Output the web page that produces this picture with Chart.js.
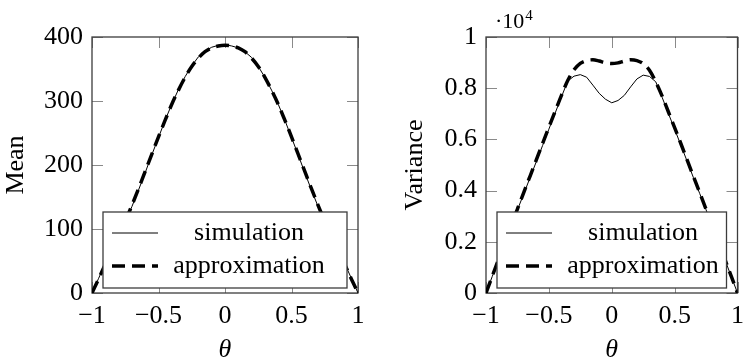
<!DOCTYPE html>
<html>
<head>
<meta charset="utf-8">
<script src="https://cdn.jsdelivr.net/npm/chart.js@4.4.1/dist/chart.umd.min.js"></script>
<style>
  html, body { margin: 0; padding: 0; background: #fff; overflow: hidden; }
  #meanChart { position: absolute; left: 0; top: 0; }
  #varChart { position: absolute; left: 375px; top: 0; }
</style>
</head>
<body>
<canvas id="meanChart" width="375" height="364"></canvas>
<canvas id="varChart" width="377" height="364"></canvas>
<script>
const FONT = "'Liberation Serif', 'DejaVu Serif', serif";

// theta grid shared by all series
const theta = [-1, -0.95, -0.9, -0.85, -0.8, -0.75, -0.7, -0.65, -0.6, -0.55, -0.5,
  -0.45, -0.4, -0.35, -0.3, -0.25, -0.2, -0.15, -0.1, -0.05, 0,
  0.05, 0.1, 0.15, 0.2, 0.25, 0.3, 0.35, 0.4, 0.45, 0.5,
  0.55, 0.6, 0.65, 0.7, 0.75, 0.8, 0.85, 0.9, 0.95, 1];

const meanSim = [0, 23, 46, 67, 89, 111, 135, 161, 188, 216, 243,
  270, 295, 318, 338, 355, 369, 378, 384, 387, 388,
  386, 383, 377, 368, 354, 337, 317, 295, 270, 243,
  216, 188, 161, 135, 111, 89, 67, 46, 23, 0];
const meanApprox = [0, 22, 45, 67, 89, 112, 137, 163, 190, 217, 244,
  270, 295, 317, 337, 354, 367, 377, 383, 386, 387,
  386, 383, 377, 367, 354, 337, 317, 295, 270, 244,
  217, 190, 163, 137, 112, 89, 67, 45, 22, 0];

const varSim = [0, 650, 1300, 1950, 2600, 3250, 3870, 4500, 5130, 5760, 6400,
  7030, 7660, 8280, 8470, 8530, 8430, 8120, 7800, 7570, 7430,
  7520, 7720, 8050, 8360, 8510, 8460, 8250, 7650, 7020, 6400,
  5770, 5140, 4500, 3880, 3250, 2600, 1950, 1300, 650, 0];
const varApprox = [0, 660, 1320, 1980, 2640, 3280, 3920, 4560, 5200, 5840, 6470,
  7100, 7720, 8300, 8720, 8970, 9080, 9110, 9060, 8990, 8960,
  8990, 9060, 9110, 9080, 8960, 8700, 8250, 7700, 7080, 6460,
  5830, 5190, 4550, 3910, 3270, 2630, 1970, 1310, 660, 0];

const legendLabels = ['simulation', 'approximation'];

function pts(ys) {
  return ys.map((v, i) => ({ x: theta[i], y: v }));
}

function minus(v) {
  return String(v).replace('-', '\u2212');
}

// box + inward ticks on all four sides
const framePlugin = {
  id: 'frame',
  beforeDatasetsDraw(chart) {
    const { ctx, chartArea: a, scales } = chart;
    const tl = 11;
    ctx.save();
    ctx.strokeStyle = '#8a8a8a';
    ctx.lineWidth = 1;
    ctx.beginPath();
    scales.x.ticks.forEach(t => {
      const px = Math.round(scales.x.getPixelForValue(t.value)) + 0.5;
      ctx.moveTo(px, a.bottom); ctx.lineTo(px, a.bottom - tl);
      ctx.moveTo(px, a.top); ctx.lineTo(px, a.top + tl);
    });
    scales.y.ticks.forEach(t => {
      const py = Math.round(scales.y.getPixelForValue(t.value)) + 0.5;
      ctx.moveTo(a.left, py); ctx.lineTo(a.left + tl, py);
      ctx.moveTo(a.right, py); ctx.lineTo(a.right - tl, py);
    });
    ctx.stroke();
    ctx.strokeStyle = '#3c3c3c';
    ctx.lineWidth = 1.3;
    ctx.strokeRect(a.left, a.top, a.right - a.left, a.bottom - a.top);
    ctx.restore();
  }
};

const boxLegend = {
  id: 'boxLegend',
  afterDatasetsDraw(chart) {
    const { ctx, chartArea: a } = chart;
    const w = a.right - a.left - 22, h = 76;
    const left = a.left + 11, top = a.bottom - 5 - h;
    ctx.save();
    ctx.fillStyle = '#fff';
    ctx.fillRect(left, top, w, h);
    ctx.strokeStyle = '#3c3c3c';
    ctx.lineWidth = 1.3;
    ctx.strokeRect(left, top, w, h);
    chart.data.datasets.forEach((ds, i) => {
      const cy = top + 21 + i * 33;
      ctx.beginPath();
      ctx.strokeStyle = ds.borderColor;
      ctx.lineWidth = ds.borderWidth;
      ctx.setLineDash(ds.borderDash || []);
      ctx.moveTo(left + 9, cy);
      ctx.lineTo(left + 55, cy);
      ctx.stroke();
      ctx.setLineDash([]);
      ctx.fillStyle = '#000';
      ctx.font = '26px ' + FONT;
      ctx.textAlign = 'center';
      ctx.textBaseline = 'middle';
      ctx.fillText(ds.label, left + 146, cy);
    });
    ctx.restore();
  }
};

const expLabel = {
  id: 'expLabel',
  afterDraw(chart) {
    const { ctx, chartArea: a } = chart;
    ctx.save();
    ctx.fillStyle = '#000';
    ctx.textBaseline = 'alphabetic';
    ctx.textAlign = 'left';
    ctx.font = '22px ' + FONT;
    const base = '\u00b710';
    ctx.fillText(base, a.left + 9, 28);
    const bw = ctx.measureText(base).width;
    ctx.font = '15px ' + FONT;
    ctx.fillText('4', a.left + 9 + bw + 1, 20);
    ctx.restore();
  }
};

function makeChart(id, sim, approx, yOpts, layoutPad, plugins) {
  return new Chart(document.getElementById(id), {
    type: 'line',
    data: {
      datasets: [
        { label: legendLabels[0], data: pts(sim), borderColor: '#000', borderWidth: 1,
          pointRadius: 0, tension: 0, order: 1 },
        { label: legendLabels[1], data: pts(approx), borderColor: '#000', borderWidth: 3.5,
          borderDash: [13, 7], pointRadius: 0, cubicInterpolationMode: 'monotone', order: 0 }
      ]
    },
    options: {
      responsive: false,
      animation: false,
      layout: { padding: layoutPad, autoPadding: false },
      scales: {
        x: {
          type: 'linear', min: -1, max: 1,
          grid: { display: false, drawTicks: false },
          border: { display: false },
          ticks: { stepSize: 0.5, padding: 8, color: '#000', maxRotation: 0, autoSkip: false,
            font: { family: FONT, size: 26 }, callback: v => minus(v) },
          title: { display: true, text: '\u03b8', color: '#000', padding: { top: 0, bottom: 0 },
            font: { family: FONT, size: 26, style: 'italic', lineHeight: 1.1 } },
          afterFit: s => { s.height = 71; }
        },
        y: {
          min: yOpts.min, max: yOpts.max,
          grid: { display: false, drawTicks: false },
          border: { display: false },
          ticks: { stepSize: yOpts.step, padding: 9, color: '#000', autoSkip: false,
            font: { family: FONT, size: 26 }, callback: yOpts.fmt },
          title: { display: true, text: yOpts.title, color: '#000',
            padding: { top: yOpts.titlePad, bottom: 0 },
            font: { family: FONT, size: 26, lineHeight: 1.1 } },
          afterFit: s => { s.width = yOpts.width; }
        }
      },
      plugins: { legend: { display: false }, tooltip: { enabled: false } }
    },
    plugins: plugins
  });
}

function drawAll() {
  makeChart('meanChart', meanSim, meanApprox,
    { min: 0, max: 400, step: 100, title: 'Mean', titlePad: 2, width: 92, fmt: v => minus(v) },
    { top: 37, right: 17, bottom: 0, left: 0 },
    [framePlugin, boxLegend]);

  makeChart('varChart', varSim, varApprox,
    { min: 0, max: 10000, step: 2000, title: 'Variance', titlePad: 26, width: 111,
      fmt: v => String(Math.round(v / 1000) / 10) },
    { top: 37, right: 0, bottom: 0, left: 0 },
    [framePlugin, boxLegend, expLabel]);
}

Promise.all([
  document.fonts.load("26px 'Liberation Serif'"),
  document.fonts.load("italic 26px 'Liberation Serif'")
]).then(drawAll, drawAll);
</script>
</body>
</html>
